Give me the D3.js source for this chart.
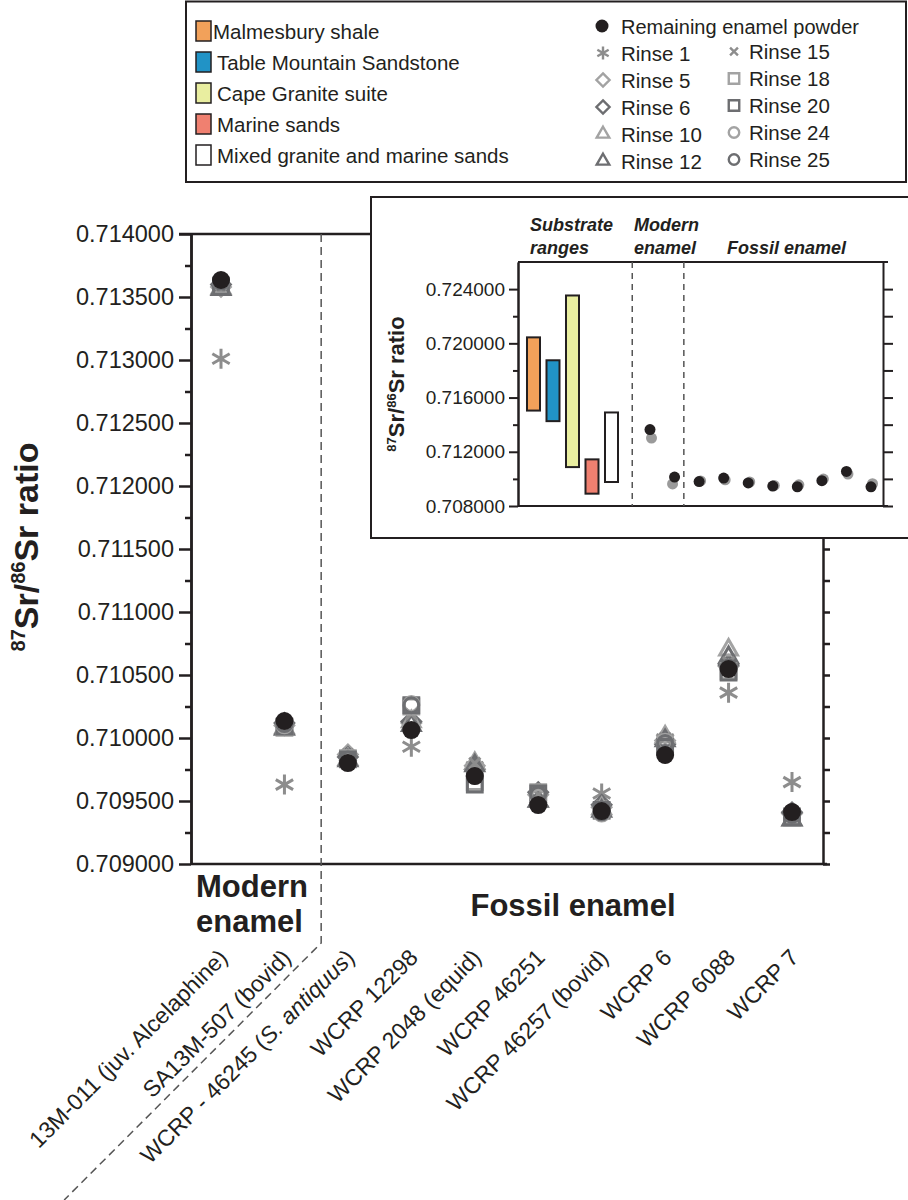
<!DOCTYPE html>
<html>
<head>
<meta charset="utf-8">
<script src="https://cdn.jsdelivr.net/npm/d3@7"></script>
<style>
body { margin: 0; background: #fff; }
svg { font-family: "Liberation Sans", Arial, Helvetica, sans-serif; }
</style>
</head>
<body>
<div id="chart"></div>
<script>
(function(d3) {
  'use strict';

  // ---- data ----
  var samples = ['13M-011 (juv. Alcelaphine)', 'SA13M-507 (bovid)', 'WCRP - 46245 (S. antiquus)',
    'WCRP 12298', 'WCRP 2048 (equid)', 'WCRP 46251', 'WCRP 46257 (bovid)', 'WCRP 6', 'WCRP 6088', 'WCRP 7'];

  var powder  = [0.713635, 0.710135, 0.709801, 0.710063, 0.709698, 0.709468, 0.709420, 0.709865, 0.710547, 0.709412];
  var rinse1  = [0.713010, 0.709630, 0.709850, 0.709930, 0.709770, 0.709520, 0.709560, 0.709990, 0.710360, 0.709650];
  var rinse5  = [0.713580, 0.710100, 0.709870, 0.710120, 0.709780, 0.709550, 0.709450, 0.709980, 0.710570, 0.709400];
  var rinse6  = [0.713600, 0.710120, 0.709850, 0.710130, 0.709750, 0.709570, 0.709470, 0.709950, 0.710580, 0.709410];
  var rinse10 = [0.713570, 0.710080, 0.709830, 0.710130, 0.709800, 0.709500, 0.709440, 0.710010, 0.710700, 0.709350];
  var rinse12 = [0.713560, 0.710070, 0.709820, 0.710100, 0.709780, 0.709500, 0.709420, 0.709980, 0.710640, 0.709350];
  var rinse15 = [0.713600, 0.710090, 0.709870, 0.710190, 0.709800, 0.709550, 0.709460, 0.710000, 0.710600, 0.709420];
  var rinse18 = [0.713590, 0.710080, 0.709840, 0.710250, 0.709650, 0.709570, 0.709420, 0.709950, 0.710530, 0.709380];
  var rinse20 = [0.713580, 0.710090, 0.709830, 0.710260, 0.709630, 0.709560, 0.709430, 0.709930, 0.710520, 0.709370];
  var rinse24 = [0.713620, 0.710100, 0.709820, 0.710270, 0.709700, 0.709530, 0.709400, 0.709970, 0.710550, 0.709400];
  var rinse25 = [0.713620, 0.710110, 0.709830, 0.710260, 0.709700, 0.709550, 0.709410, 0.709960, 0.710560, 0.709390];

  var rinseNames  = ['Rinse 1', 'Rinse 5', 'Rinse 6', 'Rinse 10', 'Rinse 12', 'Rinse 15', 'Rinse 18', 'Rinse 20', 'Rinse 24', 'Rinse 25'];
  var rinseValues = [rinse1, rinse5, rinse6, rinse10, rinse12, rinse15, rinse18, rinse20, rinse24, rinse25];

  var substrates    = ['Malmesbury shale', 'Table Mountain Sandstone', 'Cape Granite suite', 'Marine sands', 'Mixed granite and marine sands'];
  var substrateLow  = [0.71504, 0.71426, 0.71087, 0.70891, 0.70977];
  var substrateHigh = [0.72044, 0.71875, 0.72353, 0.71144, 0.71490];

  var mainTicks  = [0.709, 0.7095, 0.710, 0.7105, 0.711, 0.7115, 0.712, 0.7125, 0.713, 0.7135, 0.714];
  var mainMinor  = [0.70925, 0.70975, 0.71025, 0.71075, 0.71125, 0.71175, 0.71225, 0.71275, 0.71325, 0.71375];
  var insetTicks = [0.708, 0.712, 0.716, 0.720, 0.724];
  var insetMinor = [0.710, 0.714, 0.718, 0.722];

  // ---- styles ----
  var ink = '#231f20';
  var light = '#a3a3a3';
  var dark = '#6d6e71';
  var substrateColors = ['#f2a15a', '#2193c6', '#e9eea0', '#f08070', '#ffffff'];

  // symbol types, size = diameter^2
  var symbols = {
    circle: { draw: function(c, s) { var r = Math.sqrt(s) / 2; c.moveTo(r, 0); c.arc(0, 0, r, 0, 2 * Math.PI); } },
    square: { draw: function(c, s) { var r = Math.sqrt(s) / 2; c.rect(-r, -r, 2 * r, 2 * r); } },
    diamond: { draw: function(c, s) { var r = Math.sqrt(s) / 2 * 1.25;
      c.moveTo(0, -r); c.lineTo(r, 0); c.lineTo(0, r); c.lineTo(-r, 0); c.closePath(); } },
    triangle: { draw: function(c, s) { var a = Math.sqrt(s) * 1.2, h = a * 0.866;
      c.moveTo(0, -h * 2 / 3); c.lineTo(a / 2, h / 3); c.lineTo(-a / 2, h / 3); c.closePath(); } },
    asterisk: { draw: function(c, s) { var r = Math.sqrt(s) / 2;
      [90, 30, 150].forEach(function(a) { var t = a * Math.PI / 180;
        c.moveTo(r * Math.cos(t), -r * Math.sin(t)); c.lineTo(-r * Math.cos(t), r * Math.sin(t)); }); } },
    times: { draw: function(c, s) { var r = Math.sqrt(s) / 2 * 0.75;
      c.moveTo(-r, -r); c.lineTo(r, r); c.moveTo(r, -r); c.lineTo(-r, r); } }
  };

  var rinseStyle = {
    'Rinse 1':  { type: 'asterisk', color: '#8d8d8d' },
    'Rinse 5':  { type: 'diamond',  color: light },
    'Rinse 6':  { type: 'diamond',  color: dark },
    'Rinse 10': { type: 'triangle', color: light },
    'Rinse 12': { type: 'triangle', color: dark },
    'Rinse 15': { type: 'times',    color: '#8d8d8d' },
    'Rinse 18': { type: 'square',   color: light },
    'Rinse 20': { type: 'square',   color: dark },
    'Rinse 24': { type: 'circle',   color: light },
    'Rinse 25': { type: 'circle',   color: dark }
  };

  var width = 908;
  var height = 1200;

  var svg = d3.select('#chart')
    .append('svg')
    .attr('width', width)
    .attr('height', height);

  // ---- main chart ----
  var plotLeft = 191, plotRight = 823, plotTop = 234, plotBottom = 864;

  var y = d3.scaleLinear().domain([0.709, 0.714]).range([plotBottom, plotTop]);
  var x = d3.scalePoint().domain(samples).range([221, 792]);

  var main = svg.append('g');

  // frame lines
  main.append('line').attr('x1', plotLeft - 12).attr('x2', plotRight).attr('y1', plotTop).attr('y2', plotTop)
    .attr('stroke', ink).attr('stroke-width', 2.5);
  main.append('line').attr('x1', plotLeft).attr('x2', plotRight + 4).attr('y1', plotBottom).attr('y2', plotBottom)
    .attr('stroke', ink).attr('stroke-width', 2.5);

  var leftAxis = main.append('g')
    .attr('transform', 'translate(' + plotLeft + ',0)')
    .call(d3.axisLeft(y).tickValues(mainTicks).tickSize(12).tickSizeOuter(0).tickPadding(5)
      .tickFormat(d3.format('.6f')));
  main.append('g')
    .attr('transform', 'translate(' + plotLeft + ',0)')
    .call(d3.axisLeft(y).tickValues(mainMinor).tickSize(6).tickSizeOuter(0).tickFormat(''));
  main.append('g')
    .attr('transform', 'translate(' + plotRight + ',0)')
    .call(d3.axisRight(y).tickValues(mainMinor.concat(mainTicks)).tickSize(7).tickSizeOuter(0).tickFormat(''));

  main.selectAll('.domain, .tick line').attr('stroke', ink).attr('stroke-width', 2.5);
  leftAxis.selectAll('text').attr('font-size', 23.5).attr('fill', ink).attr('font-family', null);

  // divider between modern and fossil enamel
  var divX = (x(samples[1]) + x(samples[2])) / 2 + 5;
  var divBreak = 943;
  main.append('path')
    .attr('d', d3.line()([[divX, plotTop], [divX, divBreak], [divX - (height - divBreak), height]]))
    .attr('fill', 'none').attr('stroke', '#555').attr('stroke-width', 1.5).attr('stroke-dasharray', '8,5');

  // rinse points
  var symbolGen = d3.symbol();
  rinseNames.forEach(function(name, k) {
    var st = rinseStyle[name];
    main.append('g').selectAll('path')
      .data(rinseValues[k])
      .enter()
      .append('path')
      .attr('transform', function(d, i) { return 'translate(' + x(samples[i]) + ',' + y(d) + ')'; })
      .attr('d', symbolGen.type(symbols[st.type]).size(st.type === 'asterisk' ? 400 : 220)())
      .attr('fill', 'none')
      .attr('stroke', st.color)
      .attr('stroke-width', 3);
  });

  // remaining enamel powder
  main.append('g').selectAll('circle')
    .data(powder)
    .enter()
    .append('circle')
    .attr('cx', function(d, i) { return x(samples[i]); })
    .attr('cy', function(d) { return y(d); })
    .attr('r', 9)
    .attr('fill', ink);

  // x labels
  var labels = main.append('g').selectAll('text')
    .data(samples)
    .enter()
    .append('text')
    .attr('transform', function(d) { return 'translate(' + (x(d) + 8) + ',' + 959 + ') rotate(-45)'; })
    .attr('text-anchor', 'end')
    .attr('font-size', 23)
    .attr('fill', ink);
  labels.each(function(d) {
    var t = d3.select(this);
    var parts = d.split('S. antiquus');
    if (parts.length === 2) {
      t.append('tspan').text(parts[0]);
      t.append('tspan').attr('font-style', 'italic').text('S. antiquus');
      t.append('tspan').text(parts[1]);
    } else {
      t.text(d);
    }
  });

  // group labels
  var modernLbl = main.append('text').attr('x', 196).attr('y', 897)
    .attr('font-size', 31).attr('font-weight', 'bold').attr('fill', ink);
  modernLbl.append('tspan').attr('x', 196).text('Modern');
  modernLbl.append('tspan').attr('x', 196).attr('dy', 35).text('enamel');
  main.append('text').attr('x', 573).attr('y', 916).attr('text-anchor', 'middle')
    .attr('font-size', 31).attr('font-weight', 'bold').attr('fill', ink).text('Fossil enamel');

  // y title
  function ratioTitle(sel, size, sup) {
    sel.append('tspan').attr('font-size', sup).attr('dy', -size * 0.38).text('87');
    sel.append('tspan').attr('dy', size * 0.38).text('Sr/');
    sel.append('tspan').attr('font-size', sup).attr('dy', -size * 0.38).text('86');
    sel.append('tspan').attr('dy', size * 0.38).text('Sr ratio');
  }
  var yTitle = main.append('text')
    .attr('transform', 'translate(38,' + ((plotTop + plotBottom) / 2 - 2) + ') rotate(-90)')
    .attr('text-anchor', 'middle').attr('font-size', 34).attr('font-weight', 'bold').attr('fill', ink);
  ratioTitle(yTitle, 34, 20);

  // ---- inset ----
  var inset = svg.append('g');
  inset.append('rect').attr('x', 371).attr('y', 197).attr('width', 560).attr('height', 341)
    .attr('fill', '#fff').attr('stroke', ink).attr('stroke-width', 2);

  var iLeft = 518, iRight = 883, iTop = 262, iBottom = 506;
  var yi = d3.scaleLinear().domain([0.708, 0.726]).range([iBottom, iTop]);
  var xb = d3.scaleBand().domain(substrates).range([520.5, 624.5]).paddingInner(0.333).paddingOuter(0.333);
  var xi = d3.scalePoint().domain(samples).range([650, 871]);

  inset.append('line').attr('x1', iLeft).attr('x2', iRight + 5).attr('y1', iTop).attr('y2', iTop)
    .attr('stroke', ink).attr('stroke-width', 2);
  inset.append('line').attr('x1', iLeft).attr('x2', iRight + 5).attr('y1', iBottom).attr('y2', iBottom)
    .attr('stroke', ink).attr('stroke-width', 2);

  var iAxis = inset.append('g').attr('transform', 'translate(' + iLeft + ',0)')
    .call(d3.axisLeft(yi).tickValues(insetTicks).tickSize(9).tickSizeOuter(0).tickPadding(4)
      .tickFormat(d3.format('.6f')));
  inset.append('g').attr('transform', 'translate(' + iLeft + ',0)')
    .call(d3.axisLeft(yi).tickValues(insetMinor).tickSize(5).tickSizeOuter(0).tickFormat(''));
  inset.append('g').attr('transform', 'translate(' + iRight + ',0)')
    .call(d3.axisRight(yi).tickValues(insetTicks.concat(insetMinor)).tickSize(10).tickSizeOuter(0).tickFormat(''));
  inset.selectAll('.domain, .tick line').attr('stroke', ink).attr('stroke-width', 2);
  iAxis.selectAll('text').attr('font-size', 19).attr('fill', ink).attr('font-family', null);

  // dividers
  var iDiv1 = (xb.range()[1] + xi(samples[0])) / 2 - 5;
  var iDiv2 = (xi(samples[1]) + xi(samples[2])) / 2 - 3;
  [iDiv1, iDiv2].forEach(function(dx) {
    inset.append('line').attr('x1', dx).attr('x2', dx).attr('y1', iTop).attr('y2', iBottom)
      .attr('stroke', '#555').attr('stroke-width', 1.5).attr('stroke-dasharray', '6,5');
  });

  // substrate ranges
  inset.append('g').selectAll('rect')
    .data(substrates)
    .enter()
    .append('rect')
    .attr('x', function(d) { return xb(d); })
    .attr('width', xb.bandwidth())
    .attr('y', function(d, i) { return yi(substrateHigh[i]); })
    .attr('height', function(d, i) { return yi(substrateLow[i]) - yi(substrateHigh[i]); })
    .attr('fill', function(d, i) { return substrateColors[i]; })
    .attr('stroke', ink).attr('stroke-width', 2);

  // enamel points
  inset.append('g').selectAll('circle')
    .data(rinse1)
    .enter()
    .append('circle')
    .attr('cx', function(d, i) { return xi(samples[i]) + (i === 1 ? -2 : 1.5); })
    .attr('cy', function(d) { return yi(d); })
    .attr('r', 5.5)
    .attr('fill', '#9a9a9a');
  inset.append('g').selectAll('circle')
    .data(powder)
    .enter()
    .append('circle')
    .attr('cx', function(d, i) { return xi(samples[i]); })
    .attr('cy', function(d) { return yi(d); })
    .attr('r', 5.5)
    .attr('fill', ink);

  // headers
  function header(tx, ty, lines) {
    var t = inset.append('text').attr('x', tx).attr('y', ty)
      .attr('font-size', 18).attr('font-weight', 'bold').attr('font-style', 'italic').attr('fill', ink);
    lines.forEach(function(l, i) { t.append('tspan').attr('x', tx).attr('dy', i ? 23 : 0).text(l); });
  }
  header(530, 231, ['Substrate', 'ranges']);
  header(634, 231, ['Modern', 'enamel']);
  header(727, 254, ['Fossil enamel']);

  var iTitle = inset.append('text')
    .attr('transform', 'translate(404,' + ((iTop + iBottom) / 2) + ') rotate(-90)')
    .attr('text-anchor', 'middle').attr('font-size', 22).attr('font-weight', 'bold').attr('fill', ink);
  ratioTitle(iTitle, 22, 13);

  // ---- legend ----
  var legend = svg.append('g');
  legend.append('rect').attr('x', 186).attr('y', 1.5).attr('width', 720).attr('height', 180.5)
    .attr('fill', '#fff').attr('stroke', ink).attr('stroke-width', 2);

  var subItems = legend.selectAll('.sub')
    .data(substrates)
    .enter()
    .append('g')
    .attr('class', 'sub')
    .attr('transform', function(d, i) { return 'translate(196,' + (31 + i * 31) + ')'; });
  subItems.append('rect')
    .attr('x', 0).attr('y', -10).attr('width', 15).attr('height', 20)
    .attr('fill', function(d, i) { return substrateColors[i]; })
    .attr('stroke', ink).attr('stroke-width', 1.5);
  subItems.append('text')
    .attr('x', function(d, i) { return i === 0 ? 17 : 21; }).attr('y', 7.5)
    .attr('font-size', 20.5).attr('fill', ink)
    .text(function(d) { return d; });

  legend.append('circle').attr('cx', 602).attr('cy', 26).attr('r', 6.5).attr('fill', ink);
  legend.append('text').attr('x', 621).attr('y', 33.5).attr('font-size', 20).attr('fill', ink)
    .text('Remaining enamel powder');

  var rinseItems = legend.selectAll('.rinse')
    .data(rinseNames)
    .enter()
    .append('g')
    .attr('class', 'rinse')
    .attr('transform', function(d, i) {
      var col = Math.floor(i / 5), row = i % 5;
      return 'translate(' + (603 + col * 131) + ',' + (53 - col * 1.5 + row * 27) + ')';
    });
  rinseItems.append('path')
    .attr('d', function(d) {
      var st = rinseStyle[d];
      return d3.symbol().type(symbols[st.type]).size(st.type === 'asterisk' ? 170 : 110)();
    })
    .attr('fill', 'none')
    .attr('stroke', function(d) { return rinseStyle[d].color; })
    .attr('stroke-width', 2.4);
  rinseItems.append('text')
    .attr('x', function(d, i) { return i < 5 ? 18 : 15; }).attr('y', 7.5)
    .attr('font-size', 20.5).attr('fill', ink)
    .text(function(d) { return d; });

})(window.d3);
</script>
</body>
</html>
